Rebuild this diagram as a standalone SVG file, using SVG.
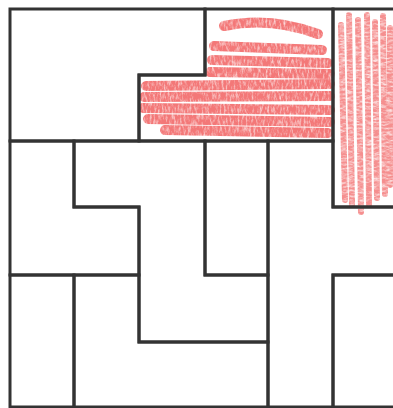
<svg xmlns="http://www.w3.org/2000/svg" width="393" height="408" viewBox="0 0 393 408">
<style>
.piece{fill:none;stroke:#333;stroke-width:3;stroke-linejoin:miter}
.scr{fill:none;stroke:#ee3f3f;stroke-width:10;stroke-linecap:round;opacity:0.7}
.scrv{fill:none;stroke:#ee4545;stroke-width:6;stroke-linecap:round;opacity:0.6}
</style>
<defs>
<filter id="crayon" x="-10%" y="-10%" width="120%" height="120%">
<feTurbulence type="fractalNoise" baseFrequency="0.5 0.15" numOctaves="3" seed="3" result="n"/>
<feColorMatrix in="n" type="matrix" values="0 0 0 0 0  0 0 0 0 0  0 0 0 0 0  0 0 0 -1.6 1.7" result="m"/>
<feComposite in="SourceGraphic" in2="m" operator="in"/>
</filter>
<filter id="crayonV" x="-10%" y="-10%" width="120%" height="120%">
<feTurbulence type="fractalNoise" baseFrequency="0.15 0.5" numOctaves="3" seed="5" result="n"/>
<feColorMatrix in="n" type="matrix" values="0 0 0 0 0  0 0 0 0 0  0 0 0 0 0  0 0 0 -1.6 1.6" result="m"/>
<feComposite in="SourceGraphic" in2="m" operator="in"/>
</filter>
</defs>
<rect width="393" height="408" fill="#fff"/>
<g id="shading">
<g id="shade-top" filter="url(#crayon)">
<path class="scr" d="M224,26 Q270,16 318,34 M214,46 L322,50 M212,60 L328,63 M210,72 L330,74 M146,86 L330,84 M144,97 L330,96 M143,108 L330,110 M148,119 L330,122 M165,130 L328,133"/>
</g>
<g id="shade-right" filter="url(#crayonV)">
<path class="scrv" d="M341,25 L345,200 M349,15 L352,205 M358,20 L361,212 M367,15 L369,205 M375,22 L377,198 M383,16 L385,194 M390,28 L390,185"/>
</g>
</g>
<g id="pieces">
<g id="piece-a"><path class="piece" d="M10,9 H205 V75 H139 V141 H10 Z"/></g>
<g id="piece-b"><path class="piece" d="M205,9 H333 V141 H139 V75 H205 Z"/></g>
<g id="piece-c"><path class="piece" d="M333,9 H398 V207 H333 Z"/></g>
<g id="piece-d"><path class="piece" d="M10,141 H74 V207 H139 V275 H10 Z"/></g>
<g id="piece-e"><path class="piece" d="M74,141 H205 V275 H268 V342 H139 V207 H74 Z"/></g>
<g id="piece-f"><path class="piece" d="M205,141 H268 V275 H205 Z"/></g>
<g id="piece-g"><path class="piece" d="M268,141 H333 V207 H398 V275 H333 V407 H268 Z"/></g>
<g id="piece-h"><path class="piece" d="M10,275 H74 V407 H10 Z"/></g>
<g id="piece-i"><path class="piece" d="M74,275 H139 V342 H268 V407 H74 Z"/></g>
<g id="piece-j"><path class="piece" d="M333,275 H398 V407 H333 Z"/></g>
</g>
<g id="connectors"/>
</svg>
